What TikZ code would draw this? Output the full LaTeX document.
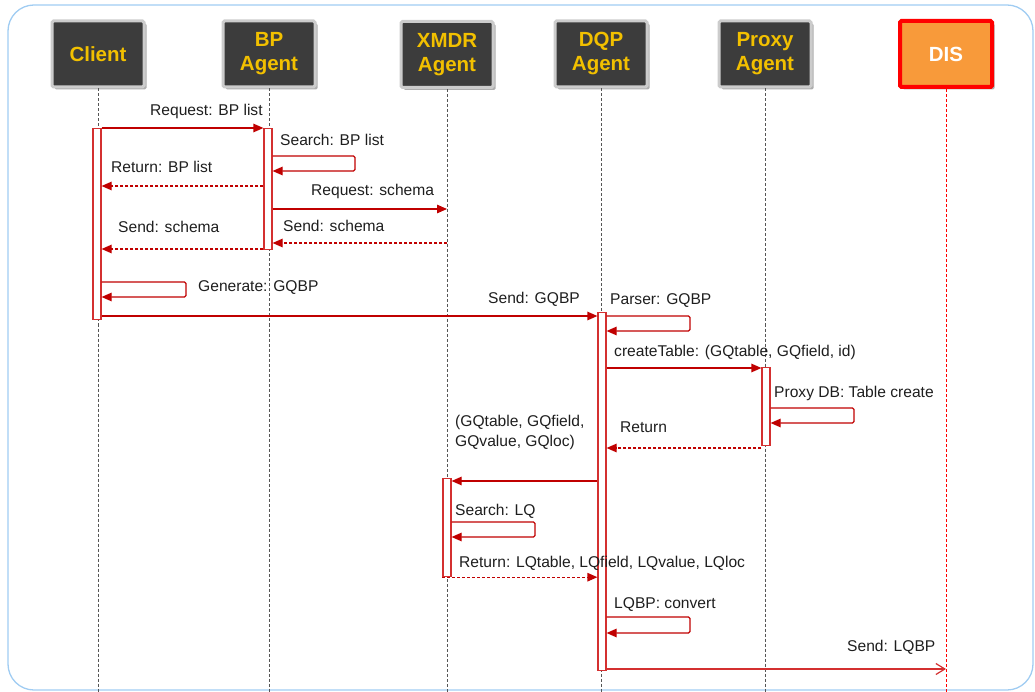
\documentclass[tikz,border=0pt]{standalone}
\usepackage{fontspec}
\setmainfont{Liberation Sans}
\usetikzlibrary{arrows.meta,shadows}

\definecolor{msgred}{RGB}{192,0,0}
\definecolor{barred}{RGB}{212,48,48}
\definecolor{boxgrey}{RGB}{60,60,60}
\definecolor{boxrim}{RGB}{204,204,204}
\definecolor{headyellow}{RGB}{242,192,0}
\definecolor{disorange}{RGB}{248,154,58}
\definecolor{disrim}{RGB}{255,0,0}
\definecolor{frameblue}{RGB}{160,204,242}
\definecolor{lifegrey}{RGB}{85,85,85}
\definecolor{labelgrey}{RGB}{30,30,30}

\begin{document}
\begin{tikzpicture}[x=1pt,y=-1pt,
  head/.style={draw=boxrim, line width=3pt, fill=boxgrey, rounded corners=1.5pt,
    minimum width=92pt, minimum height=66pt, inner sep=0pt, align=center,
    text=headyellow, font=\fontsize{20.5}{24}\selectfont\bfseries,
    drop shadow={shadow xshift=2.5pt, shadow yshift=-2.5pt, opacity=0.45, fill=black!70}},
  dishead/.style={head, draw=disrim, line width=4pt, fill=disorange, text=white},
  life/.style={draw=lifegrey, line width=0.7pt, dash pattern=on 3pt off 2pt},
  dislife/.style={life, draw=disrim},
  actbar/.style={draw=barred, line width=1.2pt, fill=white, minimum width=8pt,
    inner sep=0pt, anchor=north},
  msg/.style={draw=msgred, line width=1.2pt, -{Triangle[length=10pt,width=8.5pt]}},
  reply/.style={msg, dash pattern=on 3pt off 2pt},
  selfmsg/.style={msg, rounded corners=1.5pt},
  openmsg/.style={draw=barred, line width=1.2pt, -{Straight Barb[length=9pt,width=11pt]}},
  lbl/.style={anchor=base west, inner sep=0pt, text=labelgrey,
    font=\fontsize{15.6}{19.5}\selectfont, align=left}
]
\useasboundingbox (0,0) rectangle (1035,692);

% outer frame
\draw[frameblue, line width=1.3pt, rounded corners=26pt] (8,5) rectangle (1033,690);

% participants
\node[head] (client) at (98,54) {Client};
\node[head] (bp)     at (269,54) {BP\\Agent};
\node[head] (xmdr)   at (447,54.5) {XMDR\\Agent};
\node[head] (dqp)    at (601,54) {DQP\\Agent};
\node[head] (proxy)  at (765,54) {Proxy\\Agent};
\node[dishead] (dis) at (946,54) {DIS};

% lifelines
\coordinate (clientEnd) at (98,692);
\coordinate (bpEnd)     at (269,692);
\coordinate (xmdrEnd)   at (447,692);
\coordinate (dqpEnd)    at (601,692);
\coordinate (proxyEnd)  at (765,692);
\coordinate (disEnd)    at (946,692);
\draw[life] (client.south) -- (clientEnd);
\draw[life] (bp.south) -- (bpEnd);
\draw[life] (xmdr.south) -- (xmdrEnd);
\draw[life] (dqp.south) -- (dqpEnd);
\draw[life] (proxy.south) -- (proxyEnd);
\draw[dislife] (dis.south) -- (disEnd);

% activation bars
\node[actbar, minimum height=191pt] (cbar)   at (97,128) {};
\node[actbar, minimum height=121pt] (bpbar)  at (268,128) {};
\node[actbar, minimum height=358pt] (dqpbar) at (602,312) {};
\node[actbar, minimum height=78pt]  (pxbar)  at (766,367) {};
\node[actbar, minimum height=98pt]  (xmbar)  at (447,478) {};

% Client <-> BP Agent <-> XMDR Agent
\draw[msg] (cbar.east |- 0,128) -- (bpbar.west |- 0,128);
\node[lbl] (l1) at (150,116) {Request: BP list};

\draw[selfmsg] (bpbar.east |- 0,156) -- (355,156) -- (355,171) -- (bpbar.east |- 0,171);
\node[lbl] (l2) at (280,146) {Search: BP list};

\draw[reply] (bpbar.west |- 0,186) -- (cbar.east |- 0,186);
\node[lbl] (l3) at (111,173) {Return: BP list};

\draw[msg] (bpbar.east |- 0,209) -- (xmdr.south |- 0,209);
\node[lbl] (l4) at (311,196) {Request: schema};

\draw[reply] (xmdr.south |- 0,243) -- (bpbar.east |- 0,243);
\node[lbl] (l5) at (283,232) {Send: schema};

\draw[reply] (bpbar.west |- 0,249) -- (cbar.east |- 0,249);
\node[lbl] (l6) at (118,233) {Send: schema};

\draw[selfmsg] (cbar.east |- 0,282) -- (186,282) -- (186,297) -- (cbar.east |- 0,297);
\node[lbl] (l7) at (198,292) {Generate: GQBP};

% Client -> DQP Agent
\draw[msg] (cbar.east |- 0,316) -- (dqpbar.west |- 0,316);
\node[lbl] (l8) at (488,304) {Send: GQBP};

\draw[selfmsg] (dqpbar.east |- 0,316) -- (690,316) -- (690,331) -- (dqpbar.east |- 0,331);
\node[lbl] (l9) at (610,305) {Parser: GQBP};

% DQP Agent <-> Proxy Agent
\draw[msg] (dqpbar.east |- 0,368) -- (pxbar.west |- 0,368);
\node[lbl] (l10) at (614,356) {createTable: (GQtable, GQfield, id)};

\draw[selfmsg] (pxbar.east |- 0,408) -- (854,408) -- (854,423) -- (pxbar.east |- 0,423);
\node[lbl] (l11) at (774,397) {Proxy DB: Table create};

\draw[reply] (pxbar.west |- 0,448) -- (dqpbar.east |- 0,448);
\node[lbl] (l12) at (620,432) {Return};

% DQP Agent <-> XMDR Agent
\draw[msg] (dqpbar.west |- 0,481) -- (xmbar.east |- 0,481);
\node[lbl] (l13) at (455,446) {(GQtable, GQfield,\\GQvalue, GQloc)};

\draw[selfmsg] (xmbar.east |- 0,522) -- (535,522) -- (535,537) -- (xmbar.east |- 0,537);
\node[lbl] (l14) at (455,515) {Search: LQ};

\draw[reply] (xmbar.south west) -- (dqpbar.west |- xmbar.south);
\node[lbl] (l15) at (459,567) {Return: LQtable, LQfield, LQvalue, LQloc};

\draw[selfmsg] (dqpbar.east |- 0,617) -- (690,617) -- (690,633) -- (dqpbar.east |- 0,633);
\node[lbl] (l16) at (614,608) {LQBP: convert};

% DQP Agent -> DIS
\draw[openmsg] (dqpbar.east |- 0,669) -- (dis.south |- 0,669);
\node[lbl] (l17) at (847,651) {Send: LQBP};
\end{tikzpicture}
\end{document}
